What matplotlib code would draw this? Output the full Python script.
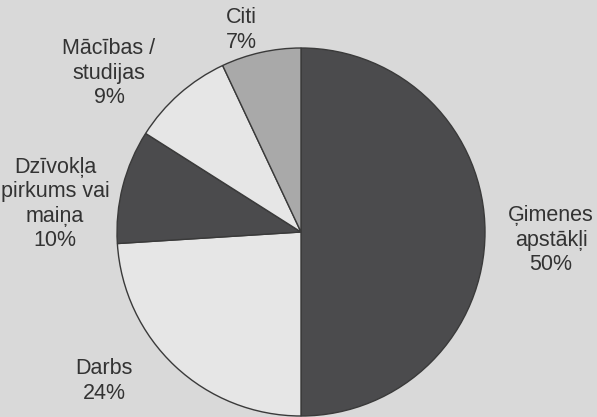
import matplotlib.pyplot as plt

plt.rcParams['font.family'] = ['Liberation Sans', 'DejaVu Sans']

# slices, clockwise from the top
labels = ['Ģimenes\napstākļi', 'Darbs', 'Dzīvokļa\npirkums vai\nmaiņa', 'Mācības /\nstudijas', 'Citi']
shares = [50, 24, 10, 9, 7]
colors = ['#4b4b4d', '#e6e6e6', '#4b4b4d', '#e6e6e6', '#a9a9a9']

# label anchor points in pixels (x, y from top)
label_pos = [(551, 240), (104, 381), (55, 204), (109, 73), (241, 30)]

fig = plt.figure(figsize=(5.97, 4.17), dpi=100)
fig.patch.set_facecolor('#d9d9d9')
ax = fig.add_axes([0, 0, 1, 1])
ax.set_facecolor('#d9d9d9')

ax.pie(shares, colors=colors, startangle=90, counterclock=False,
       center=(301, 417 - 232), radius=184,
       wedgeprops=dict(edgecolor='#3a3a3a', linewidth=1.0))

for lab, v, (x, y) in zip(labels, shares, label_pos):
    ax.text(x, 417 - y, lab + '\n' + str(v) + '%', ha='center', va='center',
            fontsize=15.5, color='#333333', linespacing=1.22)

ax.set_xlim(0, 597)
ax.set_ylim(0, 417)
ax.set_aspect('equal')
ax.axis('off')

plt.savefig('out.png', dpi=100, facecolor=fig.get_facecolor())
